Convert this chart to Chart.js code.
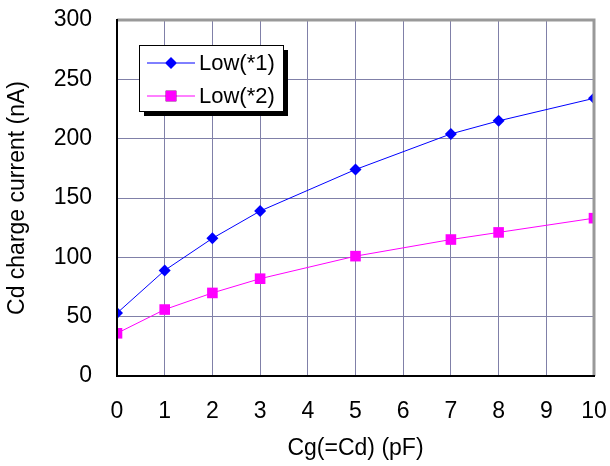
<!DOCTYPE html>
<html>
<head>
<meta charset="utf-8">
<script src="https://cdn.jsdelivr.net/npm/chart.js@4"></script>
<style>
  html, body { margin: 0; padding: 0; background: #fff; }
  #wrap { width: 610px; height: 466px; }
</style>
</head>
<body>
<div id="wrap"><canvas id="chart" width="610" height="466"></canvas></div>
<script>
const xValues = [0, 1, 2, 3, 5, 7, 8, 10];
const low1 = [53, 89, 116, 139, 174, 204, 215, 234];
const low2 = [36, 56, 70, 82, 101, 115, 121, 133];
const seriesNames = ["Low(*1)", "Low(*2)"];
const xTicks = [0, 1, 2, 3, 4, 5, 6, 7, 8, 9, 10];
const yTicks = [0, 50, 100, 150, 200, 250, 300];
const xTitle = "Cg(=Cd) (pF)";
const yTitle = "Cd charge current (nA)";

const FONT = "'Liberation Sans', Arial, sans-serif";

const toPoints = ys => ys.map((y, i) => ({ x: xValues[i], y: y }));

// frame: gray top/right, black left/bottom
const framePlugin = {
    id: "frame",
    afterDraw(chart) {
        const { ctx, chartArea: a } = chart;
        ctx.save();
        ctx.strokeStyle = "#999999";
        ctx.lineWidth = 3;
        ctx.beginPath();
        ctx.moveTo(a.left, a.top);
        ctx.lineTo(a.right, a.top);
        ctx.lineTo(a.right, a.bottom);
        ctx.stroke();
        ctx.strokeStyle = "#000000";
        ctx.lineWidth = 2;
        ctx.beginPath();
        ctx.moveTo(a.left, a.top - 1);
        ctx.lineTo(a.left, a.bottom);
        ctx.lineTo(a.right + 1, a.bottom);
        ctx.stroke();
        ctx.restore();
    }
};

// boxed legend with drop shadow inside the plot
const legendBoxPlugin = {
    id: "legendBox",
    afterDraw(chart) {
        const { ctx } = chart;
        const x = 139, y = 45, w = 144, h = 66;
        ctx.save();
        ctx.fillStyle = "#000";
        ctx.fillRect(x + 5, y + 5, w, h);
        ctx.fillStyle = "#fff";
        ctx.fillRect(x, y, w, h);
        ctx.strokeStyle = "#000";
        ctx.lineWidth = 1;
        ctx.strokeRect(x + 0.5, y + 0.5, w, h);
        ctx.font = "22px " + FONT;
        ctx.textBaseline = "middle";
        chart.data.datasets.forEach((ds, i) => {
            const cy = y + 18 + i * 33;
            ctx.strokeStyle = ds.borderColor;
            ctx.lineWidth = 1;
            ctx.beginPath();
            ctx.moveTo(x + 8, cy);
            ctx.lineTo(x + 56, cy);
            ctx.stroke();
            Chart.helpers.drawPoint(ctx, {
                pointStyle: ds.pointStyle,
                radius: ds.pointRadius,
                rotation: 0,
                borderWidth: 0
            }, x + 32, cy);
            ctx.fillStyle = ds.pointBackgroundColor;
            ctx.fill();
            ctx.fillStyle = "#000";
            ctx.fillText(ds.label, x + 60, cy + 1);
        });
        ctx.restore();
    }
};

new Chart(document.getElementById("chart").getContext("2d"), {
    type: "scatter",
    data: {
        datasets: [
            {
                label: seriesNames[0],
                data: toPoints(low1),
                showLine: true,
                borderColor: "#0000ff",
                borderWidth: 1,
                pointStyle: "rectRot",
                pointRadius: 6,
                pointBackgroundColor: "#0000ff",
                pointBorderColor: "#0000ff",
                pointBorderWidth: 0
            },
            {
                label: seriesNames[1],
                data: toPoints(low2),
                showLine: true,
                borderColor: "#ff00ff",
                borderWidth: 1,
                pointStyle: "rect",
                pointRadius: 7.5,
                pointBackgroundColor: "#ff00ff",
                pointBorderColor: "#ff00ff",
                pointBorderWidth: 0
            }
        ]
    },
    options: {
        responsive: false,
        animation: false,
        layout: {
            autoPadding: false,
            padding: { top: 20, right: 16, left: 0, bottom: 0 }
        },
        plugins: {
            legend: { display: false },
            tooltip: { enabled: false }
        },
        scales: {
            x: {
                type: "linear",
                min: 0,
                max: 10,
                afterFit: axis => {
                    axis.height = 90;
                    axis.paddingLeft = 0;
                    axis.paddingRight = 0;
                },
                afterBuildTicks: axis => {
                    axis.ticks = xTicks.map(v => ({ value: v }));
                },
                grid: { color: "#8080a8", lineWidth: 1, drawTicks: false },
                border: { display: false },
                ticks: {
                    color: "#000",
                    font: { family: FONT, size: 23 },
                    padding: 22,
                    maxRotation: 0
                },
                title: {
                    display: true,
                    text: xTitle,
                    color: "#000",
                    font: { family: FONT, size: 23 },
                    padding: { top: 11 }
                }
            },
            y: {
                min: 0,
                max: 300,
                afterFit: axis => {
                    axis.width = 117;
                    axis.paddingTop = 0;
                    axis.paddingBottom = 0;
                },
                afterBuildTicks: axis => {
                    axis.ticks = yTicks.map(v => ({ value: v }));
                },
                grid: { color: "#8080a8", lineWidth: 1, drawTicks: false },
                border: { display: false },
                ticks: {
                    color: "#000",
                    font: { family: FONT, size: 23 },
                    padding: 25
                },
                title: {
                    display: true,
                    text: yTitle,
                    color: "#000",
                    font: { family: FONT, size: 23 },
                    padding: { top: 4, bottom: 4 }
                }
            }
        }
    },
    plugins: [framePlugin, legendBoxPlugin]
});
</script>
</body>
</html>
